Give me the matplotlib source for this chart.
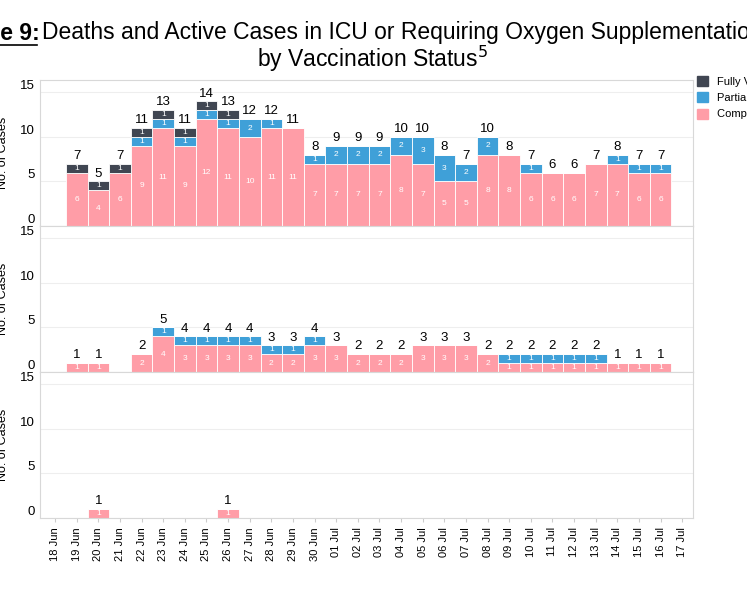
import matplotlib.pyplot as plt
import numpy as np
from matplotlib.patches import Patch

plt.rcParams['font.family'] = ['Liberation Sans', 'DejaVu Sans']

dates = ['18 Jun', '19 Jun', '20 Jun', '21 Jun', '22 Jun', '23 Jun', '24 Jun', '25 Jun',
         '26 Jun', '27 Jun', '28 Jun', '29 Jun', '30 Jun', '01 Jul', '02 Jul', '03 Jul',
         '04 Jul', '05 Jul', '06 Jul', '07 Jul', '08 Jul', '09 Jul', '10 Jul', '11 Jul',
         '12 Jul', '13 Jul', '14 Jul', '15 Jul', '16 Jul', '17 Jul']

# panel 1: active cases in ICU / requiring oxygen
p1_unvax = [0, 6, 4, 6, 9, 11, 9, 12, 11, 10, 11, 11, 7, 7, 7, 7, 8, 7, 5, 5, 8, 8, 6, 6, 6, 7, 7, 6, 6, 0]
p1_part = [0, 0, 0, 0, 1, 1, 1, 1, 1, 2, 1, 0, 1, 2, 2, 2, 2, 3, 3, 2, 2, 0, 1, 0, 0, 0, 1, 1, 1, 0]
p1_full = [0, 1, 1, 1, 1, 1, 1, 1, 1, 0, 0, 0, 0, 0, 0, 0, 0, 0, 0, 0, 0, 0, 0, 0, 0, 0, 0, 0, 0, 0]
# panel 2
p2_unvax = [0, 1, 1, 0, 2, 4, 3, 3, 3, 3, 2, 2, 3, 3, 2, 2, 2, 3, 3, 3, 2, 1, 1, 1, 1, 1, 1, 1, 1, 0]
p2_part = [0, 0, 0, 0, 0, 1, 1, 1, 1, 1, 1, 1, 1, 0, 0, 0, 0, 0, 0, 0, 0, 1, 1, 1, 1, 1, 0, 0, 0, 0]
p2_full = [0] * 30
# panel 3: deaths
p3_unvax = [0, 0, 1, 0, 0, 0, 0, 0, 1, 0, 0, 0, 0, 0, 0, 0, 0, 0, 0, 0, 0, 0, 0, 0, 0, 0, 0, 0, 0, 0]
p3_part = [0] * 30
p3_full = [0] * 30

c_unvax = '#FF9DA7'
c_part = '#3FA0D8'
c_full = '#404652'

fig = plt.figure(figsize=(7.47, 5.98), dpi=100)
left, right = 40 / 747, 693 / 747
tops = [80, 226, 372]
h = 146
x = np.arange(len(dates))
for i, (u, p, f) in enumerate([(p1_unvax, p1_part, p1_full),
                               (p2_unvax, p2_part, p2_full),
                               (p3_unvax, p3_part, p3_full)]):
    ax = fig.add_axes([left, 1 - (tops[i] + h) / 598, right - left, h / 598])
    u, p, f = np.array(u), np.array(p), np.array(f)
    ax.bar(x, u, width=1, color=c_unvax, edgecolor='white', linewidth=0.6)
    ax.bar(x, p, width=1, bottom=u, color=c_part, edgecolor='white', linewidth=0.6)
    ax.bar(x, f, width=1, bottom=u + p, color=c_full, edgecolor='white', linewidth=0.6)
    for xi in x:
        for val, base in ((u[xi], 0), (p[xi], u[xi]), (f[xi], u[xi] + p[xi])):
            if val > 0:
                ax.text(xi, base + val / 2, str(val), color='white', fontsize=6,
                        ha='center', va='center')
        tot = u[xi] + p[xi] + f[xi]
        if tot > 0:
            ax.text(xi, tot + 0.2, str(tot), fontsize=9.5, ha='center', va='bottom')
    ax.set_xlim(-0.7, 29.5)
    ax.set_ylim(0, 16.4)
    ax.set_yticks([0, 5, 10, 15])
    ax.tick_params(axis='y', labelsize=9.5, length=0)
    for lab in ax.get_yticklabels():
        lab.set_verticalalignment('bottom')
    ax.grid(axis='y', color='#eeeeee', linewidth=0.8)
    ax.set_axisbelow(True)
    for s in ax.spines.values():
        s.set_color('#d8d8d8')
    ax.set_xticks(x)
    if i < 2:
        ax.tick_params(axis='x', bottom=False, labelbottom=False)
    else:
        ax.set_xticklabels(dates, rotation=90, fontsize=8)
        ax.tick_params(axis='x', length=3, color='#cccccc')
    ax.set_ylabel('No. of Cases', fontsize=9)
    ax.yaxis.set_label_coords(-0.047, 0.5)

fig.text(40 / 747, 1 - 33 / 598, 'Table 9:', fontsize=16.5, fontweight='bold',
         ha='right', va='center')
fig.add_artist(plt.Line2D([-0.03, 40 / 747 - 0.004], [1 - 45 / 598] * 2,
                          color='black', linewidth=1.2))
fig.text(42 / 747, 1 - 33 / 598,
         'Deaths and Active Cases in ICU or Requiring Oxygen Supplementation',
         fontsize=16.5, ha='left', va='center')
fig.text(372 / 747, 1 - 59 / 598, 'by Vaccination Status$^5$', fontsize=16.5,
         ha='center', va='center')

handles = [Patch(color=c_full), Patch(color=c_part), Patch(color=c_unvax)]
fig.legend(handles, ['Fully Vaccinated', 'Partially Vaccinated', 'Completely Unvaccinated'],
           loc='upper left', bbox_to_anchor=(697 / 747, 1 - 76 / 598), frameon=False,
           fontsize=8, handlelength=1, handleheight=1, borderaxespad=0, borderpad=0)

fig.savefig('out.png', dpi=100)
